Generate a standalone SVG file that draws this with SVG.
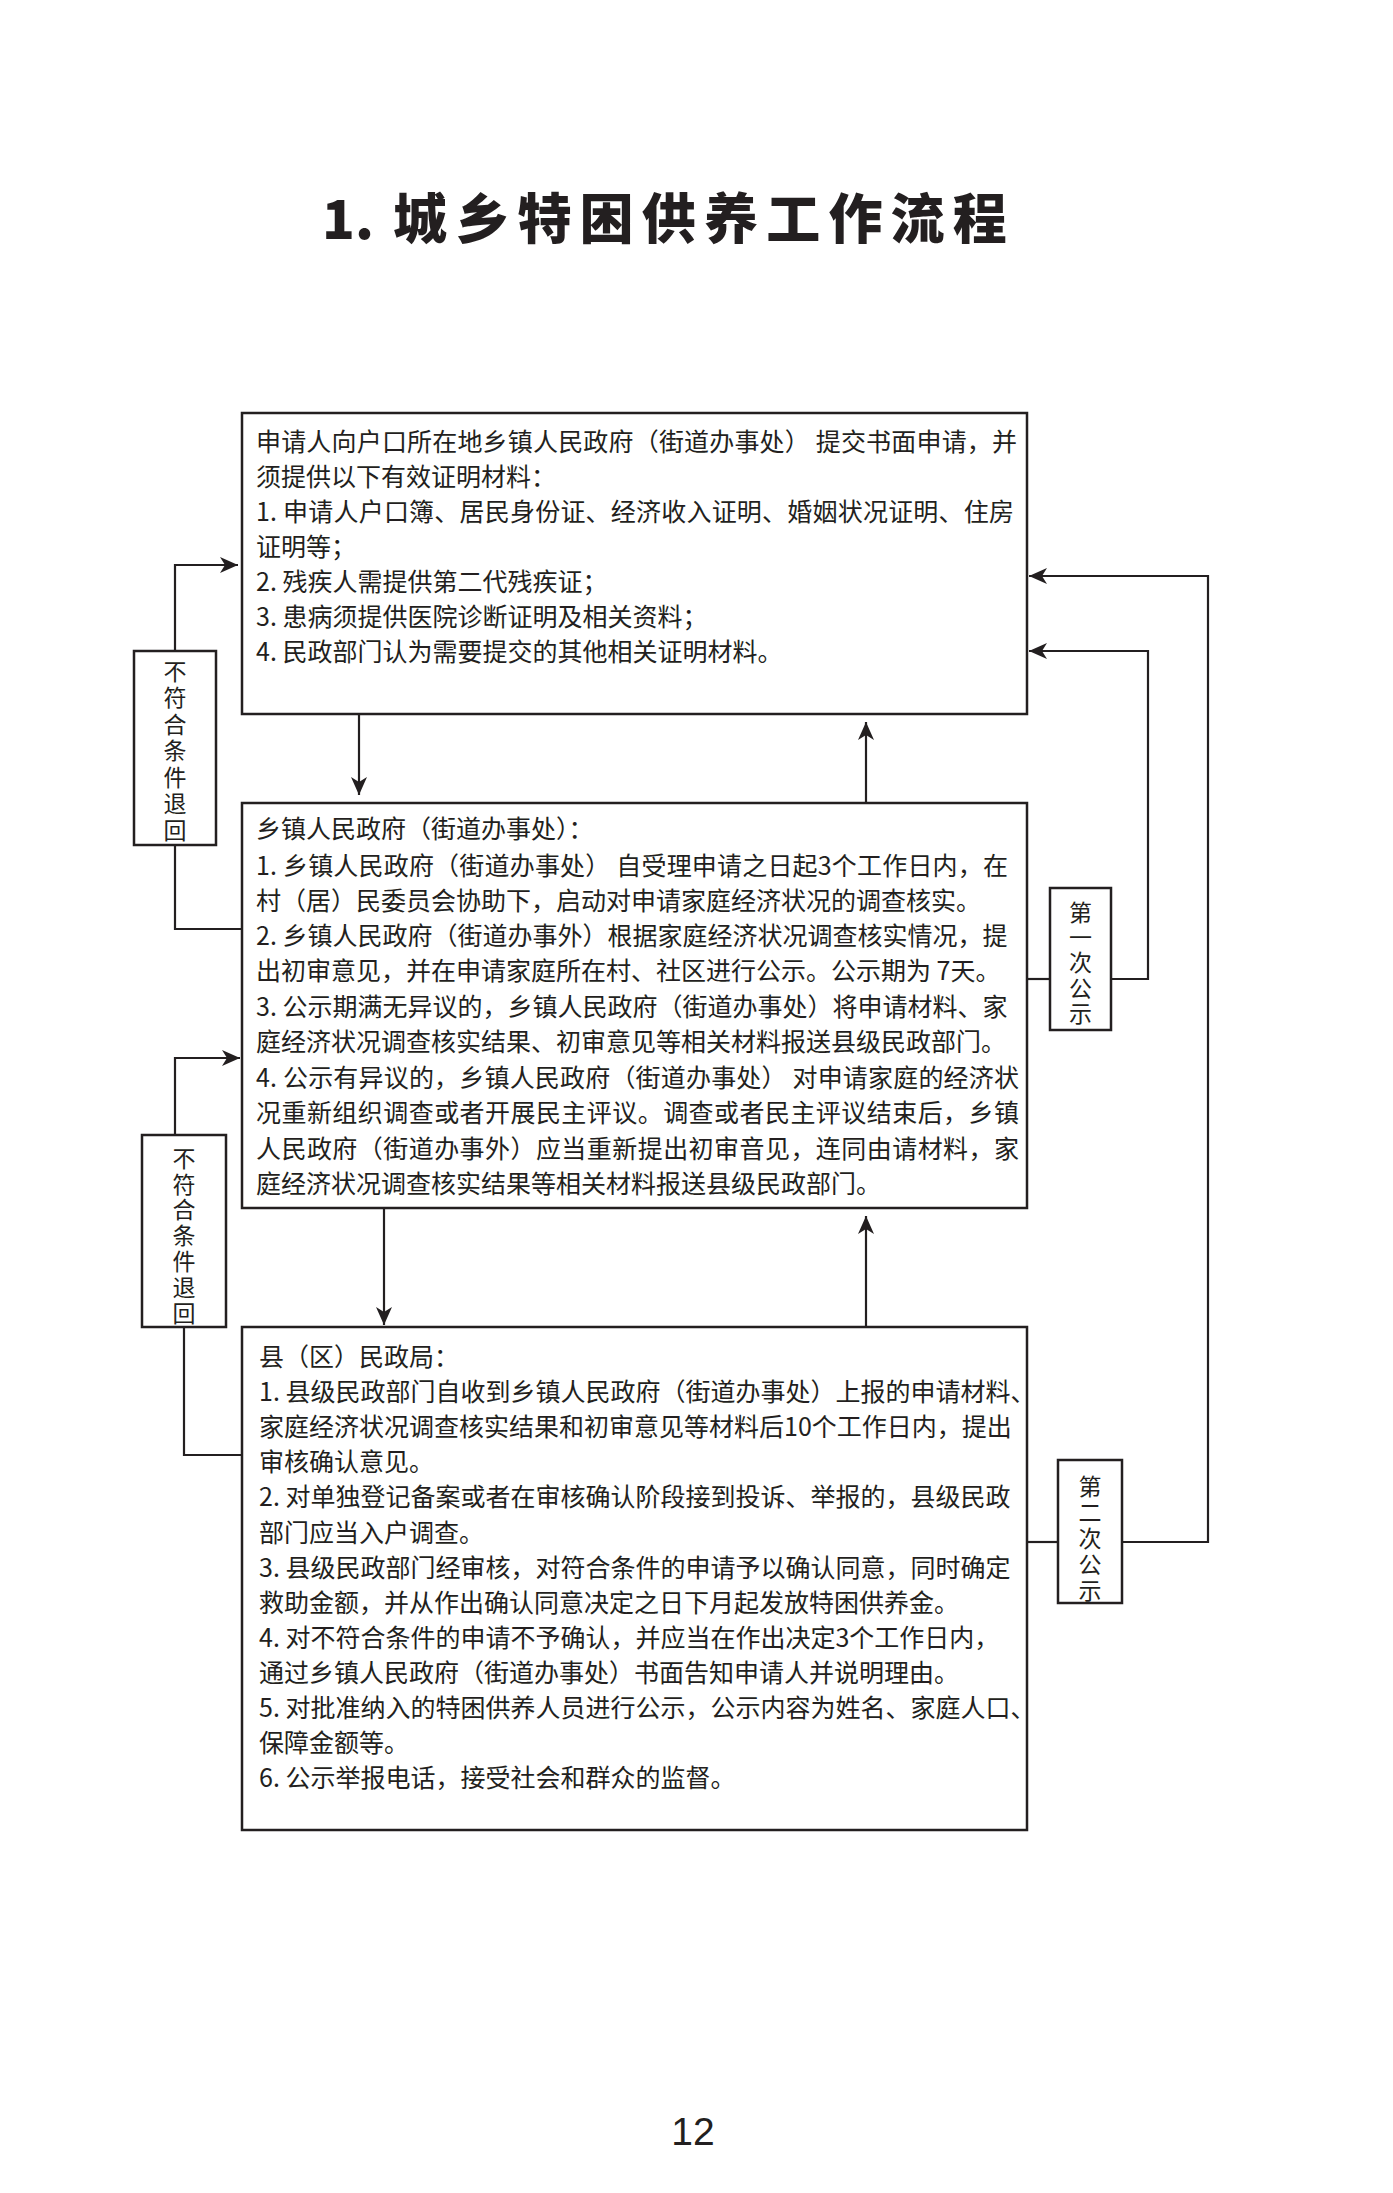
<svg xmlns="http://www.w3.org/2000/svg" width="1393" height="2193" viewBox="0 0 1393 2193">
<style>
.box{fill:none;stroke:#231f20;stroke-width:2.5}
.t{font-family:"Noto Sans CJK SC","Liberation Sans",sans-serif;font-size:25px;fill:#231f20}
.v{font-family:"Noto Sans CJK SC","Liberation Sans",sans-serif;font-size:23px;fill:#231f20;writing-mode:vertical-rl;text-orientation:upright}
.c{fill:none;stroke:#231f20;stroke-width:2.2}
.title{font-family:"Noto Sans CJK SC","Liberation Sans",sans-serif;font-size:54px;font-weight:900;fill:#231f20}
</style>
<defs>
<marker id="ah" viewBox="-20 -10 22 20" refX="0" refY="0" markerWidth="22" markerHeight="20" markerUnits="userSpaceOnUse" orient="auto">
<path d="M0,0 L-18,-8 L-13,0 L-18,8 Z" fill="#231f20"/>
</marker>
</defs>
<rect width="1393" height="2193" fill="#ffffff"/>
<g id="title">
<text class="title" x="322" y="239">1.</text>
<text class="title" x="393" y="239" letter-spacing="8.2">城乡特困供养工作流程</text>
</g>
<g id="node-apply">
<rect class="box" x="242" y="413" width="785" height="301"/>
<text class="t" x="256" y="450.5" textLength="761" lengthAdjust="spacing">申请人向户口所在地乡镇人民政府（街道办事处） 提交书面申请，并</text>
<text class="t" x="256" y="485.5">须提供以下有效证明材料：</text>
<text class="t" x="256" y="521" textLength="758" lengthAdjust="spacing">1. 申请人户口簿、居民身份证、经济收入证明、婚姻状况证明、住房</text>
<text class="t" x="256" y="556">证明等；</text>
<text class="t" x="256" y="591">2. 残疾人需提供第二代残疾证；</text>
<text class="t" x="256" y="626">3. 患病须提供医院诊断证明及相关资料；</text>
<text class="t" x="256" y="661">4. 民政部门认为需要提交的其他相关证明材料。</text>
</g>
<g id="node-town">
<rect class="box" x="242" y="803" width="785" height="405"/>
<text class="t" x="256" y="838">乡镇人民政府（街道办事处）：</text>
<text class="t" x="256" y="874.5" textLength="752" lengthAdjust="spacing">1. 乡镇人民政府（街道办事处） 自受理申请之日起3个工作日内，在</text>
<text class="t" x="256" y="909.5">村（居）民委员会协助下，启动对申请家庭经济状况的调查核实。</text>
<text class="t" x="256" y="945">2. 乡镇人民政府（街道办事外）根据家庭经济状况调查核实情况，提</text>
<text class="t" x="256" y="980">出初审意见，并在申请家庭所在村、社区进行公示。公示期为 7天。</text>
<text class="t" x="256" y="1015.5">3. 公示期满无异议的，乡镇人民政府（街道办事处）将申请材料、家</text>
<text class="t" x="256" y="1051">庭经济状况调查核实结果、初审意见等相关材料报送县级民政部门。</text>
<text class="t" x="256" y="1086.5" textLength="763" lengthAdjust="spacing">4. 公示有异议的，乡镇人民政府（街道办事处） 对申请家庭的经济状</text>
<text class="t" x="256" y="1122" textLength="763" lengthAdjust="spacing">况重新组织调查或者开展民主评议。调查或者民主评议结束后，乡镇</text>
<text class="t" x="256" y="1157.5" textLength="763" lengthAdjust="spacing">人民政府（街道办事外）应当重新提出初审音见，连同由请材料，家</text>
<text class="t" x="256" y="1193">庭经济状况调查核实结果等相关材料报送县级民政部门。</text>
</g>
<g id="node-county">
<rect class="box" x="242" y="1327" width="785" height="503"/>
<text class="t" x="259" y="1366">县（区）民政局：</text>
<text class="t" x="259" y="1401">1. 县级民政部门自收到乡镇人民政府（街道办事处）上报的申请材料、</text>
<text class="t" x="259" y="1436">家庭经济状况调查核实结果和初审意见等材料后10个工作日内，提出</text>
<text class="t" x="259" y="1471">审核确认意见。</text>
<text class="t" x="259" y="1506">2. 对单独登记备案或者在审核确认阶段接到投诉、举报的，县级民政</text>
<text class="t" x="259" y="1541.5">部门应当入户调查。</text>
<text class="t" x="259" y="1577">3. 县级民政部门经审核，对符合条件的申请予以确认同意，同时确定</text>
<text class="t" x="259" y="1612">救助金额，并从作出确认同意决定之日下月起发放特困供养金。</text>
<text class="t" x="259" y="1647">4. 对不符合条件的申请不予确认，并应当在作出决定3个工作日内，</text>
<text class="t" x="259" y="1682">通过乡镇人民政府（街道办事处）书面告知申请人并说明理由。</text>
<text class="t" x="259" y="1717">5. 对批准纳入的特困供养人员进行公示，公示内容为姓名、家庭人口、</text>
<text class="t" x="259" y="1752">保障金额等。</text>
<text class="t" x="259" y="1787">6. 公示举报电话，接受社会和群众的监督。</text>
</g>
<g id="label-reject-1">
<rect class="box" x="134" y="651" width="82" height="194"/>
<text class="v" x="175" y="659.5" letter-spacing="3.5">不符合条件退回</text>
</g>
<g id="label-reject-2">
<rect class="box" x="142" y="1135" width="84" height="192"/>
<text class="v" x="184" y="1146.5" letter-spacing="2.8">不符合条件退回</text>
</g>
<g id="label-public-1">
<rect class="box" x="1050" y="888" width="61" height="142"/>
<text class="v" x="1080.5" y="900.5" letter-spacing="2.3">第一次公示</text>
</g>
<g id="label-public-2">
<rect class="box" x="1058" y="1460" width="64" height="143"/>
<text class="v" x="1090" y="1474.5" letter-spacing="3">第二次公示</text>
</g>
<g id="connectors">
<path class="c" d="M359,714 V795" marker-end="url(#ah)"/>
<path class="c" d="M866,803 V722" marker-end="url(#ah)"/>
<path class="c" d="M384,1208 V1325" marker-end="url(#ah)"/>
<path class="c" d="M866,1327 V1216" marker-end="url(#ah)"/>
<path class="c" d="M1027,979 H1050"/>
<path class="c" d="M1111,979 H1148 V651 H1029" marker-end="url(#ah)"/>
<path class="c" d="M1027,1542 H1058"/>
<path class="c" d="M1122,1542 H1208 V576 H1029" marker-end="url(#ah)"/>
<path class="c" d="M175,651 V565 H238" marker-end="url(#ah)"/>
<path class="c" d="M175,845 V929 H242"/>
<path class="c" d="M175,1135 V1058 H240" marker-end="url(#ah)"/>
<path class="c" d="M184,1327 V1455 H242"/>
</g>
<g id="page-number">
<text x="693" y="2145" font-family="Liberation Sans, sans-serif" font-size="39" fill="#231f20" text-anchor="middle">12</text>
</g>
</svg>
